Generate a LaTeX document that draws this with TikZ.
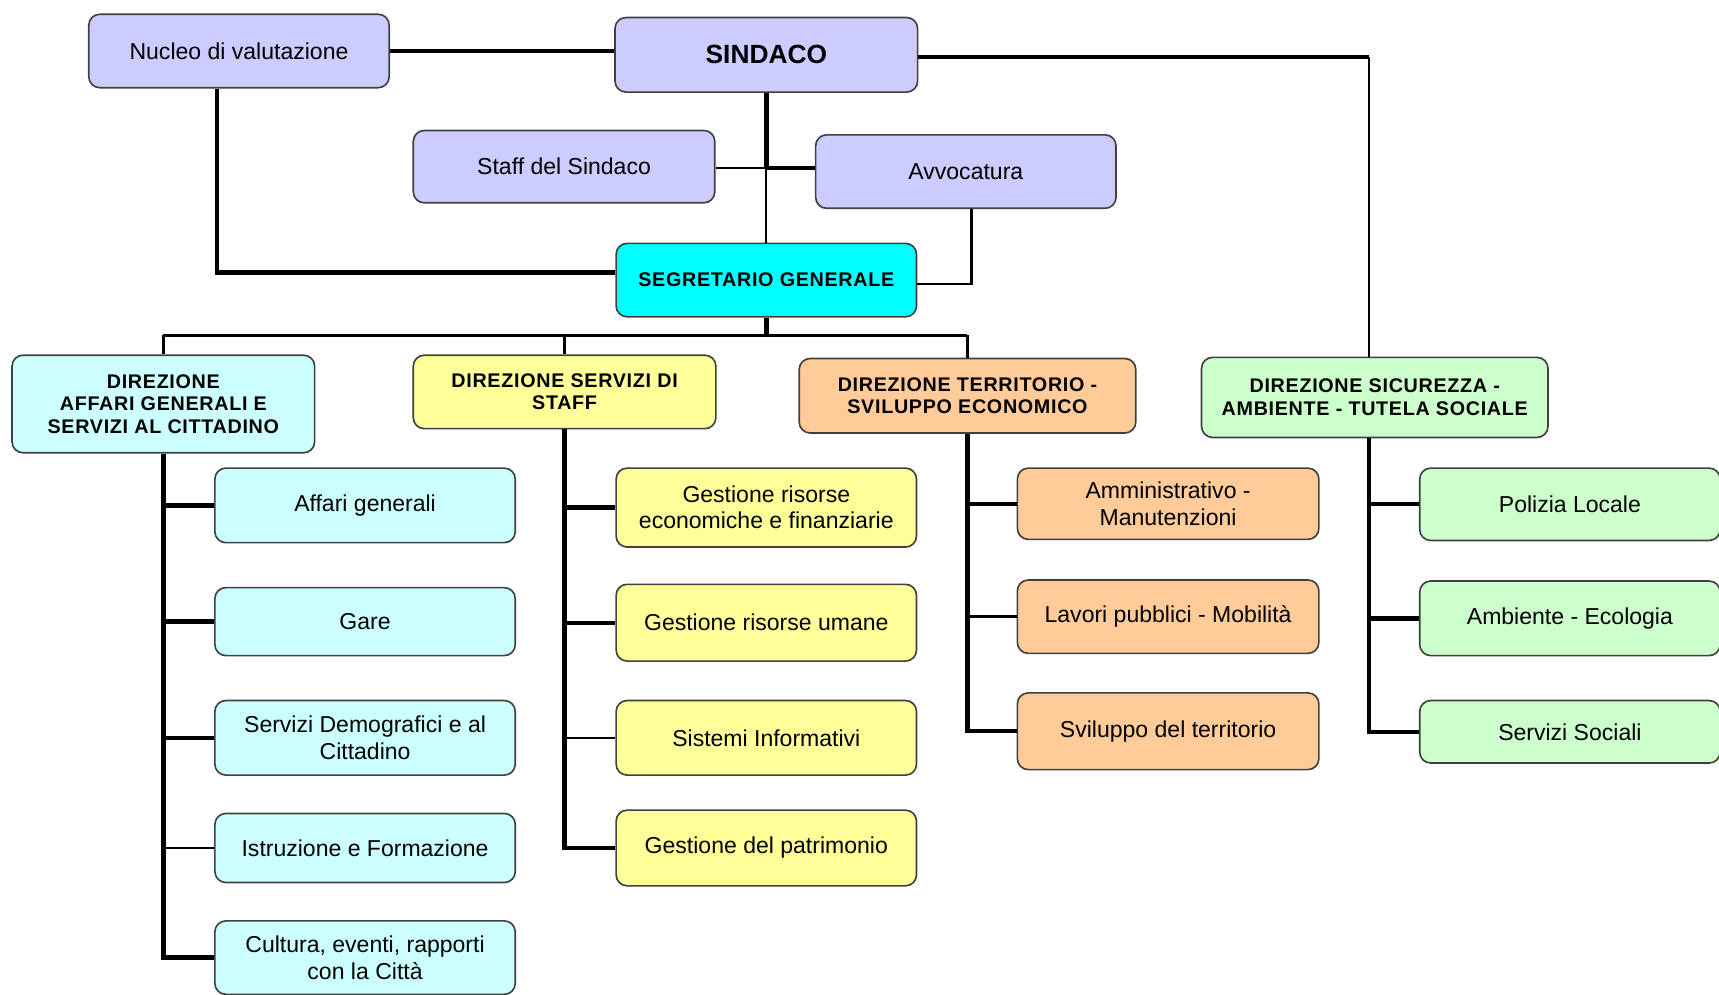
\documentclass[tikz,border=0pt]{standalone}
\usepackage{fontspec}
\setmainfont{Liberation Sans}
\newfontfamily\dirfont[LetterSpace=3.5]{Liberation Sans}
\usepackage{tikz}
\usetikzlibrary{calc,positioning}
\definecolor{lavender}{HTML}{CCCCFF}
\definecolor{segcyan}{HTML}{00FFFF}
\definecolor{agcyan}{HTML}{CCFFFF}
\definecolor{staffyel}{HTML}{FFFF99}
\definecolor{terrorange}{HTML}{FFCC99}
\definecolor{sicgreen}{HTML}{CCFFCC}

\begin{document}
\begin{tikzpicture}[x=1pt, y=-1pt,
  box/.style={draw=black!75, line width=1.5pt, rounded corners=10pt, inner sep=2pt, align=center,
    minimum width=274pt, font=\fontsize{21}{24}\selectfont},
  dirbox/.style={box, font=\dirfont\bfseries\fontsize{18}{20.5}\selectfont},
  thk/.style={line width=4pt}, thn/.style={line width=2pt}]
\useasboundingbox (0,0) rectangle (1568,907);

% vertici
\node[box, fill=lavender, minimum height=67pt] (nucleo) at (218,46.5) {Nucleo di valutazione};
\node[box, fill=lavender, minimum height=68pt, minimum width=276pt, font=\bfseries\fontsize{24}{26}\selectfont] (sindaco) at (699,50) {SINDACO};
\node[box, fill=lavender, minimum height=66pt, minimum width=275pt] (staff) at (514.5,152) {Staff del Sindaco};
\node[box, fill=lavender, minimum height=67pt] (avv) at (881,156.5) {Avvocatura};
\node[dirbox, fill=segcyan, minimum height=67pt] (seg) at (699,255.5) {SEGRETARIO GENERALE};

\node[dirbox, fill=agcyan, minimum height=89pt, minimum width=276pt] (dirag) at (149,368.5) {DIREZIONE\\AFFARI GENERALI E\\SERVIZI AL CITTADINO};
\node[dirbox, fill=staffyel, minimum height=67pt, minimum width=276pt] (dirst) at (515,357.5) {DIREZIONE SERVIZI DI\\STAFF};
\node[dirbox, fill=terrorange, minimum height=68pt, minimum width=307pt] (dirterr) at (882.5,361) {DIREZIONE TERRITORIO -\\SVILUPPO ECONOMICO};
\node[dirbox, fill=sicgreen, minimum height=73pt, minimum width=316pt] (dirsic) at (1254,362.5) {DIREZIONE SICUREZZA -\\AMBIENTE - TUTELA SOCIALE};

\foreach \n/\y/\h/\t in {ag1/461/68/Affari generali, ag2/567/62/Gare, ag3/673/68/{Servizi Demografici e al\\Cittadino},
  ag4/773.5/63/Istruzione e Formazione, ag5/873.5/67/{Cultura, eventi, rapporti\\con la Città}}
  {\node[box, fill=agcyan, minimum height=\h pt] (\n) at (333,\y) {\t};}
\foreach \n/\y/\h/\t in {st1/463/72/{Gestione risorse\\economiche e finanziarie}, st2/568/70/Gestione risorse umane,
  st3/673/68/Sistemi Informativi, st4/773.5/69/Gestione del patrimonio}
  {\node[box, fill=staffyel, minimum height=\h pt] (\n) at (699,\y) {\t};}
\foreach \n/\y/\h/\t in {te1/459.5/65/{Amministrativo -\\Manutenzioni}, te2/562.5/67/Lavori pubblici - Mobilità,
  te3/667/70/Sviluppo del territorio}
  {\node[box, fill=terrorange, minimum height=\h pt, minimum width=275pt] (\n) at (1065.5,\y) {\t};}
\foreach \n/\y/\h/\t in {si1/460/66/Polizia Locale, si2/564/68/Ambiente - Ecologia, si3/667.5/57/Servizi Sociali}
  {\node[box, fill=sicgreen, minimum height=\h pt] (\n) at (1432,\y) {\t};}

% collegamenti in alto
\coordinate (hub) at (699,153);
\coordinate (bendsic) at (1249,52);
\coordinate (bus) at (699,306);
\draw[line width=3pt] (nucleo.east) -- (nucleo.east -| sindaco.west);
\draw[thk] (sindaco.east |- bendsic) -- (bendsic);
\draw[thn] (bendsic) -- (bendsic |- dirsic.north);
\draw[thk] (sindaco.south) -- (hub);
\draw[thn] (hub) -- (seg.north);
\draw[thn] (staff.east |- hub) -- (hub);
\draw[thk] (hub) -- (hub -| avv.west);
\draw[thk] ([xshift=-20pt]nucleo.south) |- ([yshift=7pt]seg.west);
\draw[line width=2.5pt] ([xshift=5pt]avv.south) |- ([yshift=-3.5pt]seg.east);
\draw[thk] (seg.south) -- (bus);
\draw[line width=3pt] (dirag.north |- bus) -- (dirterr.north |- bus);
\foreach \d in {dirag,dirst,dirterr}{\draw[line width=3pt] (\d.north |- bus) -- (\d.north);}

% rami delle direzioni
\foreach \c/\w in {ag1/4,ag2/4,ag3/4,ag4/2,ag5/4}{\draw[line width=\w pt] (dirag.south) |- (\c.west);}
\foreach \c/\w in {st1/4,st2/4,st3/2,st4/4}{\draw[line width=\w pt] (dirst.south) |- (\c.west);}
\foreach \c/\w in {te1/4,te2/2.5,te3/4}{\draw[line width=\w pt] (dirterr.south) |- (\c.west);}
\foreach \c/\w in {si1/4,si2/4,si3/4}{\draw[line width=\w pt] (bendsic |- dirsic.south) |- (\c.west);}
\end{tikzpicture}
\end{document}
